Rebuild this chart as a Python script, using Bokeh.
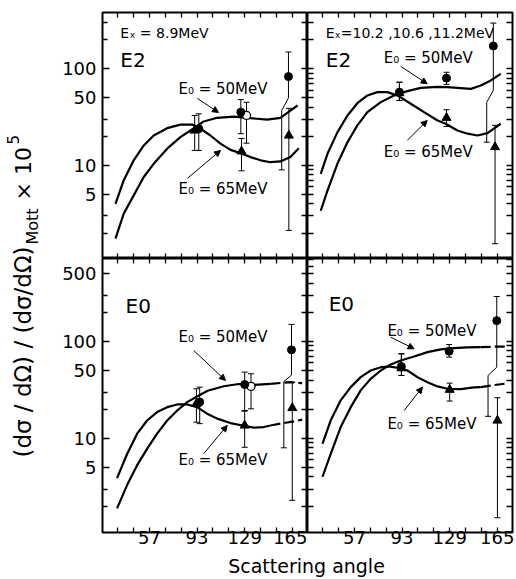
import math
from bokeh.plotting import figure
from bokeh.models import (Range1d, LinearAxis, LogAxis, FixedTicker, Label, Arrow,
                          NormalHead, Whisker, TeeHead, ColumnDataSource, NumeralTickFormatter)
from bokeh.layouts import row, column
from bokeh.embed import file_html
from bokeh.resources import INLINE

FONT = "DejaVu Sans"

# ---------------- axes ----------------
x_start, x_end = 21.5, 176.5
x_major_ticks = [57, 93, 129, 165]
x_minor_ticks = [33, 45, 69, 81, 105, 117, 141, 153]
top_y_range = (1.09, 382.0)
bottom_y_range = (1.07, 718.0)
top_y_labels = [5, 10, 50, 100]
bottom_y_labels = [5, 10, 50, 100, 500]
left_minor = [2, 3, 20, 30, 200, 300]
full_minor = [2, 3, 4, 6, 7, 8, 9, 20, 30, 40, 60, 70, 80, 90, 200, 300, 400, 600, 700]

# ---------------- top-left: E2, Ex = 8.9 MeV ----------------
tl_ang_65 = [31.3, 37.5, 45.1, 52.7, 60.2, 70.4, 80.4, 89.3, 95.6, 103.1, 110.7, 118.3, 125.8, 133.4, 141.0, 148.5, 156.0, 163.6, 169.9]
tl_val_65 = [4.0, 7.0, 11.3, 16.1, 20.4, 24.3, 26.4, 26.5, 24.0, 20.4, 16.8, 14.5, 13.4, 12.2, 11.3, 10.8, 11.0, 12.2, 15.1]
tl_ang_50 = [31.3, 37.5, 45.1, 52.7, 60.2, 70.4, 80.4, 88.0, 93.0, 98.0, 108.2, 120.7, 133.4, 146.0, 156.0, 163.6, 169.0]
tl_val_50 = [1.75, 3.16, 4.9, 7.6, 10.4, 14.9, 19.6, 23.0, 25.5, 28.5, 31.1, 32.0, 30.8, 29.8, 31.0, 37.0, 41.7]
tl_circ_ang = [94.3, 126.1, 162.1]
tl_circ_val = [24.0, 35.6, 83.0]
tl_circ_lo = [14.3, 21.3, 9.0]
tl_circ_hi = [34.2, 48.0, 149.0]
tl_tri_ang = [91.2, 126.6, 162.4]
tl_tri_val = [23.0, 14.0, 20.4]
tl_tri_lo = [14.3, 8.8, 2.13]
tl_tri_hi = [32.9, 19.0, 39.0]
tl_open_ang = [130.4]
tl_open_val = [32.9]
tl_open_lo = [17.0]
tl_open_hi = [45.0]
tl_kink = (157.0, 50.0, 37.0)   # offset angle, value where the bar bends, value where it resumes

# ---------------- top-right: E2, Ex = 10.2, 10.6, 11.2 MeV ----------------
tr_ang_65 = [31.5, 36.6, 44.1, 51.7, 59.2, 66.8, 74.4, 81.9, 89.5, 99.6, 109.6, 119.8, 126.0, 134.9, 142.5, 150.0, 157.6, 167.6]
tr_val_65 = [8.2, 13.2, 22.0, 32.9, 44.0, 53.0, 57.3, 57.3, 53.0, 43.5, 35.6, 29.2, 27.0, 23.0, 21.3, 20.4, 21.6, 27.0]
tr_ang_50 = [31.5, 36.6, 44.1, 51.7, 59.2, 66.8, 76.9, 86.9, 97.0, 107.1, 119.8, 127.3, 145.0, 152.5, 160.1, 167.6]
tr_val_50 = [3.4, 5.5, 10.4, 17.4, 26.0, 35.6, 45.2, 53.0, 58.7, 63.5, 65.0, 64.6, 62.0, 67.2, 75.7, 88.7]
tr_circ_ang = [91.0, 126.6, 162.0]
tr_circ_val = [57.3, 80.0, 172.0]
tr_circ_lo = [47.0, 69.0, 17.4]
tr_circ_hi = [72.6, 92.0, 297.0]
tr_tri_ang = [91.0, 126.6, 163.3]
tr_tri_val = [56.0, 31.1, 15.5]
tr_tri_lo = [47.0, 25.3, 1.55]
tr_tri_hi = [72.6, 37.7, 26.0]
tr_kink = (157.0, 60.0, 45.0)

# ---------------- bottom-left: E0, Ex = 8.9 MeV ----------------
bl_ang_65 = [32.5, 40.1, 47.7, 55.2, 62.8, 70.4, 78.0, 85.5, 93.0, 100.6, 108.2, 118.2, 128.3, 135.9, 143.4, 148.5, 156.0, 166.1, 172.5]
bl_val_65 = [3.9, 6.9, 11.2, 15.3, 18.7, 21.0, 22.4, 22.4, 21.0, 18.0, 16.0, 14.4, 13.5, 12.9, 13.1, 13.6, 14.2, 15.0, 15.6]
bl_ang_50 = [32.5, 40.1, 47.7, 55.2, 62.8, 70.4, 78.0, 85.5, 93.0, 101.0, 113.2, 124.5, 135.9, 148.5, 163.6, 172.5]
bl_val_50 = [1.9, 3.3, 5.3, 7.8, 11.2, 15.3, 19.4, 23.7, 27.1, 31.0, 34.5, 36.4, 35.7, 36.6, 38.0, 37.2]
bl_circ_ang = [95.0, 129.0, 164.4]
bl_circ_val = [23.7, 36.0, 82.0]
bl_circ_lo = [14.2, 19.4, 8.0]
bl_circ_hi = [33.8, 48.3, 150.0]
bl_tri_ang = [92.5, 129.0, 165.0]
bl_tri_val = [22.8, 13.6, 20.6]
bl_tri_lo = [14.7, 8.1, 2.3]
bl_tri_hi = [32.5, 19.1, 38.0]
bl_open_ang = [133.8]
bl_open_val = [34.4]
bl_open_lo = [20.2]
bl_open_hi = [46.4]
bl_kink = (158.6, 45.0, 38.5)

# ---------------- bottom-right: E0, Ex = 10.2, 10.6, 11.2 MeV ----------------
br_ang_65 = [32.8, 39.0, 46.6, 54.2, 61.7, 69.3, 76.9, 83.2, 90.0, 97.1, 104.6, 112.2, 119.8, 127.3, 137.4, 147.4, 152.5, 162.6, 172.7]
br_val_65 = [8.8, 15.3, 24.7, 33.8, 42.9, 50.2, 54.3, 55.2, 53.5, 50.2, 42.9, 38.0, 34.4, 32.5, 32.2, 33.6, 33.8, 35.5, 37.0]
br_ang_50 = [32.8, 39.0, 46.6, 54.2, 61.7, 69.3, 76.9, 84.5, 92.0, 102.1, 112.2, 122.3, 132.3, 142.0, 152.5, 167.6, 172.7]
br_val_50 = [4.0, 6.9, 13.1, 21.0, 31.3, 41.2, 50.2, 58.0, 63.7, 70.0, 77.6, 82.8, 85.3, 87.0, 87.4, 88.7, 88.7]
br_circ_ang = [92.5, 128.6, 164.6]
br_circ_val = [55.2, 79.4, 164.0]
br_circ_lo = [44.6, 69.0, 16.9]
br_circ_hi = [74.6, 93.0, 291.0]
br_tri_ang = [92.5, 129.0, 165.1]
br_tri_val = [53.0, 31.8, 15.3]
br_tri_lo = [44.6, 24.3, 1.52]
br_tri_hi = [74.6, 37.2, 26.3]
br_kink = (158.0, 54.3, 44.6)

# ---------------- texts ----------------
ex_left = "Eₓ = 8.9MeV"
ex_right = "Eₓ=10.2 ,10.6 ,11.2MeV"
lab50 = "E₀ = 50MeV"
lab65 = "E₀ = 65MeV"
DASH_FROM = 153.0


def tick_style(ax, tin):
    ax.axis_line_color = None
    ax.major_tick_in = tin
    ax.major_tick_out = 0
    ax.minor_tick_in = tin
    ax.minor_tick_out = 0
    ax.major_tick_line_width = 1.3
    ax.minor_tick_line_width = 1.3
    ax.major_tick_line_color = "black"
    ax.minor_tick_line_color = "black"


def x_axis(labels):
    ax = LinearAxis()
    tick_style(ax, 5)
    if labels:
        ax.ticker = FixedTicker(ticks=x_major_ticks, minor_ticks=x_minor_ticks)
        ax.major_label_text_font = FONT
        ax.major_label_text_font_size = "18px"
        ax.major_label_text_color = "black"
        ax.major_label_standoff = -2
    else:
        # tick marks only: every tick is a (label-free) minor tick
        ax.ticker = FixedTicker(ticks=[], minor_ticks=sorted(x_major_ticks + x_minor_ticks))
    return ax


def y_axis(major, minor, labels):
    ax = LogAxis()
    if labels:
        tick_style(ax, 7)
        ax.minor_tick_in = 5
        ax.ticker = FixedTicker(ticks=major, minor_ticks=minor)
        ax.formatter = NumeralTickFormatter(format="0")
        ax.major_label_text_font = FONT
        ax.major_label_text_font_size = "18px"
        ax.major_label_text_color = "black"
        ax.major_label_standoff = 6
    else:
        tick_style(ax, 6)
        ax.ticker = FixedTicker(ticks=[], minor_ticks=sorted(major + minor))
    return ax


def make_fig(yr, width, height, mb_left, mb_right, mb_top, mb_bottom):
    p = figure(width=width, height=height,
               x_range=Range1d(x_start, x_end), y_range=Range1d(*yr),
               y_axis_type="log", x_axis_location=None, y_axis_location=None,
               toolbar_location=None, output_backend="svg",
               min_border_left=mb_left, min_border_right=mb_right,
               min_border_top=mb_top, min_border_bottom=mb_bottom)
    p.outline_line_color = "black"
    p.outline_line_width = 2
    p.grid.visible = False
    p.background_fill_color = "white"
    p.border_fill_color = "white"
    return p


def text(p, x, y, s, size, **kw):
    p.add_layout(Label(x=x, y=y, text=s, text_font=FONT, text_font_size=size,
                       text_color="black", **kw))


def draw_curve(p, ang, val, dashed):
    if dashed:
        i = next(k for k, a in enumerate(ang) if a > DASH_FROM)
        p.line(ang[:i], val[:i], line_color="black", line_width=2.2)
        p.line(ang[i - 1:], val[i - 1:], line_color="black", line_width=2.2, line_dash="10 4")
    else:
        p.line(ang, val, line_color="black", line_width=2.2)


def bars(p, ang, lo, hi, top_cap=True, bottom_cap=True):
    src = ColumnDataSource(dict(x=ang, lo=lo, hi=hi))
    w = Whisker(source=src, base="x", upper="hi", lower="lo", dimension="height",
                line_color="black", line_width=1,
                upper_head=TeeHead(size=6, line_width=1) if top_cap else None,
                lower_head=TeeHead(size=6, line_width=1) if bottom_cap else None)
    p.add_layout(w)


def draw_points(p, circ, tri, opn, kink):
    cx, cy, clo, chi = circ
    bars(p, cx[:-1], clo[:-1], chi[:-1])
    kx, khi, klo = kink
    bars(p, cx[-1:], [khi], chi[-1:], top_cap=True, bottom_cap=False)
    p.line([cx[-1], kx], [khi, klo], line_color="black", line_width=1)
    bars(p, [kx], clo[-1:], [klo], top_cap=False, bottom_cap=True)
    tx, ty, tlo, thi = tri
    bars(p, tx, tlo, thi)
    if opn is not None:
        ox, oy, olo, ohi = opn
        bars(p, ox, olo, ohi)
        p.scatter(ox, oy, marker="circle", size=8, fill_color="white",
                  line_color="black", line_width=1.3)
    p.scatter(cx, cy, marker="circle", size=8, fill_color="black", line_color="black")
    p.scatter(tx, ty, marker="triangle", size=9, fill_color="black", line_color="black")


def annotate(p, l50, a50, l65, a65):
    for (lx, ly), (x0, y0, x1, y1), txt in ((l50, a50, lab50), (l65, a65, lab65)):
        text(p, lx, ly, txt, "15px", text_baseline="middle")
        p.add_layout(Arrow(end=NormalHead(size=6, fill_color="black", line_color="black", line_width=1),
                           x_start=x0, y_start=y0, x_end=x1, y_end=y1,
                           line_color="black", line_width=1))


# ---------------- top-left ----------------
tl = make_fig(top_y_range, 259, 258, 54, 0, 12, 0)
tl.add_layout(x_axis(False), "above")
tl.add_layout(x_axis(False), "below")
tl.add_layout(y_axis(top_y_labels, left_minor, True), "left")
tl.add_layout(y_axis(top_y_labels, left_minor, False), "right")
draw_curve(tl, tl_ang_65, tl_val_65, False)
draw_curve(tl, tl_ang_50, tl_val_50, False)
draw_points(tl, (tl_circ_ang, tl_circ_val, tl_circ_lo, tl_circ_hi),
            (tl_tri_ang, tl_tri_val, tl_tri_lo, tl_tri_hi),
            (tl_open_ang, tl_open_val, tl_open_lo, tl_open_hi), tl_kink)
text(tl, 35, 237, ex_left, "14px", text_baseline="middle")
text(tl, 35, 122, "E2", "20px", text_baseline="middle")
annotate(tl, (78.9, 62.5), (93.3, 49.3, 109.2, 35.3), (78.9, 5.65), (85.7, 7.35, 110.7, 14.3))

# ---------------- top-right ----------------
tr = make_fig(top_y_range, 208, 258, 0, 3, 12, 0)
tr.add_layout(x_axis(False), "above")
tr.add_layout(x_axis(False), "below")
tr.add_layout(y_axis(top_y_labels, full_minor, False), "left")
tr.add_layout(y_axis(top_y_labels, full_minor, False), "right")
draw_curve(tr, tr_ang_65, tr_val_65, False)
draw_curve(tr, tr_ang_50, tr_val_50, False)
draw_points(tr, (tr_circ_ang, tr_circ_val, tr_circ_lo, tr_circ_hi),
            (tr_tri_ang, tr_tri_val, tr_tri_lo, tr_tri_hi), None, tr_kink)
text(tr, 35.3, 237, ex_right, "14px", text_baseline="middle")
text(tr, 35.3, 122, "E2", "20px", text_baseline="middle")
annotate(tr, (79.1, 129), (92, 105.7, 112, 70), (79.1, 13.7), (97, 18.2, 112, 29.2))

# ---------------- bottom-left ----------------
bl = make_fig(bottom_y_range, 259, 293, 54, 0, 0, 19)
bl.add_layout(x_axis(False), "above")
bl.add_layout(x_axis(True), "below")
bl.add_layout(y_axis(bottom_y_labels, left_minor, True), "left")
bl.add_layout(y_axis(bottom_y_labels, left_minor, False), "right")
draw_curve(bl, bl_ang_65, bl_val_65, True)
draw_curve(bl, bl_ang_50, bl_val_50, True)
draw_points(bl, (bl_circ_ang, bl_circ_val, bl_circ_lo, bl_circ_hi),
            (bl_tri_ang, bl_tri_val, bl_tri_lo, bl_tri_hi),
            (bl_open_ang, bl_open_val, bl_open_lo, bl_open_hi), bl_kink)
text(bl, 38.9, 235, "E0", "20px", text_baseline="middle")
annotate(bl, (78.9, 110.7), (90.5, 80.7, 114.5, 39.6), (78.9, 5.93), (98, 6.95, 115.8, 13.6))

# ---------------- bottom-right ----------------
br = make_fig(bottom_y_range, 208, 293, 0, 3, 0, 19)
br.add_layout(x_axis(False), "above")
br.add_layout(x_axis(True), "below")
br.add_layout(y_axis(bottom_y_labels, full_minor, False), "left")
br.add_layout(y_axis(bottom_y_labels, full_minor, False), "right")
draw_curve(br, br_ang_65, br_val_65, True)
draw_curve(br, br_ang_50, br_val_50, True)
draw_points(br, (br_circ_ang, br_circ_val, br_circ_lo, br_circ_hi),
            (br_tri_ang, br_tri_val, br_tri_lo, br_tri_hi), None, br_kink)
text(br, 37.5, 244, "E0", "20px", text_baseline="middle")
annotate(br, (81.9, 129.6), (84.4, 110.7, 102.1, 84.1), (81.9, 14.2), (94.6, 19.4, 108.4, 33.8))

# ---------------- shared axis titles ----------------
YL_H = 551
ylab = figure(width=48, height=YL_H, x_range=Range1d(0, 48), y_range=Range1d(0, YL_H),
              x_axis_location=None, y_axis_location=None, toolbar_location=None,
              output_backend="svg", min_border=0)
ylab.outline_line_color = None
ylab.grid.visible = False
rot = math.pi / 2
text(ylab, 22.5, YL_H - 246, "(dσ / dΩ) / (dσ/dΩ)", "23px", angle=rot,
     text_baseline="middle", text_align="right")
text(ylab, 31.5, YL_H - 244, "Mott", "16px", angle=rot,
     text_baseline="middle", text_align="left")
text(ylab, 22.5, YL_H - 200, "× 10", "22px", angle=rot,
     text_baseline="middle", text_align="left")
text(ylab, 12, YL_H - 144, "5", "15px", angle=rot,
     text_baseline="middle", text_align="left")

XL_H = 27
xlab = figure(width=515, height=XL_H, x_range=Range1d(0, 515), y_range=Range1d(0, XL_H),
              x_axis_location=None, y_axis_location=None, toolbar_location=None,
              output_backend="svg", min_border=0)
xlab.outline_line_color = None
xlab.grid.visible = False
text(xlab, 306, XL_H - 14, "Scattering angle", "19px", text_align="center",
     text_baseline="alphabetic")

layout = column(row(ylab, column(row(tl, tr), row(bl, br))), xlab)
open("out.html", "w").write(file_html(layout, INLINE))
